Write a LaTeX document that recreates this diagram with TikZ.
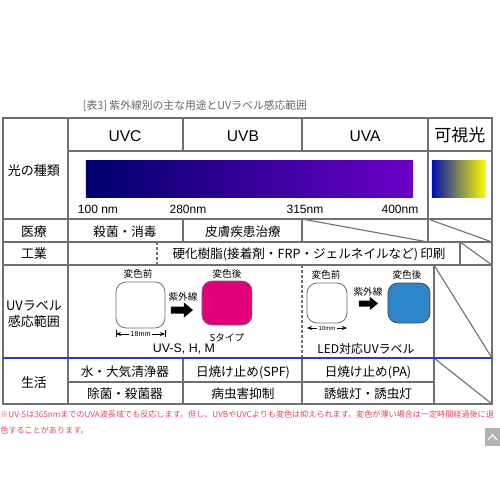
\documentclass[tikz,border=0pt]{standalone}
\usepackage{fontspec}
\setmainfont{Noto Sans CJK JP}
\newfontfamily\latinfont{Liberation Sans}
\usetikzlibrary{arrows.meta}
\definecolor{tline}{HTML}{707070}
\definecolor{uvblue}{HTML}{2838E0}
\definecolor{navyL}{HTML}{00006C}
\definecolor{purpR}{HTML}{6A00C8}
\definecolor{visblue}{HTML}{0010B0}
\definecolor{visgreen}{HTML}{30A040}
\definecolor{magentaS}{HTML}{E0007A}
\definecolor{ledblue}{HTML}{2E86C8}
\definecolor{notered}{HTML}{E8455A}
\definecolor{titlegray}{HTML}{666666}
\begin{document}
\begin{tikzpicture}[x=0.5pt,y=-0.5pt,
  grid/.style={draw=tline,line width=0.55pt},
  hdr/.style={font=\latinfont\fontsize{7.8}{8}\selectfont},
  rowlbl/.style={font=\fontsize{6.5}{8}\selectfont,align=center},
  cell/.style={font=\fontsize{6.3}{7}\selectfont},
  nmlbl/.style={font=\latinfont\fontsize{6}{7}\selectfont},
  small/.style={font=\fontsize{4.8}{5}\selectfont},
  tiny/.style={font=\latinfont\fontsize{3.6}{4}\selectfont,fill=white,inner sep=0.5pt},
  lbox/.style={draw=tline,line width=0.4pt,rounded corners=5pt},
  dimarrow/.style={-{Stealth[length=2.5pt,width=2pt]},line width=0.4pt,draw=black},
  blockarrow/.style={fill=black}
]
\useasboundingbox (0,0) rectangle (500,500);
\fill[white] (0,0) rectangle (500,500);

% title
\node[font=\fontsize{5.4}{6}\selectfont,text=titlegray] (title) at (195,106) {[表3] 紫外線別の主な用途とUVラベル感応範囲};

% gradients
\shade[left color=navyL,right color=purpR] (86,160) rectangle (413,197);
\shade[left color=visblue,middle color=visgreen,right color=yellow] (432,160) rectangle (486,197);

% grid lines
\draw[grid] (3,118) rectangle (492,404);
\draw[grid] (68,118) -- (68,404);
\draw[grid] (68,151) -- (492,151);
\draw[grid] (3,219) -- (492,219);
\draw[grid] (3,242) -- (492,242);
\draw[grid] (3,265) -- (492,265);
\draw[grid] (68,382) -- (435,382);
% verticals
\draw[grid] (183,118) -- (183,151);
\draw[grid] (302,118) -- (302,151);
\draw[grid] (428,118) -- (428,242);
\draw[grid] (183,219) -- (183,242);
\draw[grid] (302,219) -- (302,242);
\draw[grid] (460,242) -- (460,265);
\draw[grid] (434,265) -- (434,404);
\draw[grid] (183,358) -- (183,404);
\draw[grid] (302,358) -- (302,404);
\draw[grid,dashed,dash pattern=on 1.5pt off 1pt] (157,242) -- (157,265);
\draw[grid,dashed,dash pattern=on 1.5pt off 1pt] (302,265) -- (302,358);
% diagonals
\draw[grid] (302,219) -- (428,242);
\draw[grid] (428,219) -- (492,242);
\draw[grid] (460,242) -- (492,265);
\draw[grid] (434,265) -- (492,358);
\draw[grid] (434,358) -- (492,404);
% blue line
\draw[uvblue,line width=1pt] (3,358) -- (492,358);

% header
\node[hdr] (uvc) at (125,136) {UVC};
\node[hdr] (uvb) at (243,136) {UVB};
\node[hdr] (uva) at (365,136) {UVA};
\node[font=\fontsize{8.5}{9}\selectfont] (vis) at (460,135) {可視光};
\node[nmlbl] (n100) at (98,209) {100 nm};
\node[nmlbl] (n280) at (188,209) {280nm};
\node[nmlbl] (n315) at (305,209) {315nm};
\node[nmlbl] (n400) at (400,209) {400nm};

% row labels
\node[rowlbl] (r1) at (34,171) {光の種類};
\node[rowlbl] (r2) at (34,232) {医療};
\node[rowlbl] (r3) at (34,254) {工業};
\node[rowlbl] (r4) at (34,314) {UVラベル\\感応範囲};
\node[rowlbl] (r5) at (34,383) {生活};

% cells
\node[cell] (m1) at (125,232) {殺菌・消毒};
\node[cell] (m2) at (243,232) {皮膚疾患治療};
\node[cell] (k1) at (309,254) {硬化樹脂(接着剤・FRP・ジェルネイルなど)\,印刷};
\node[cell] (s1) at (125,372) {水・大気清浄器};
\node[cell] (s2) at (243,372) {日焼け止め(SPF)};
\node[cell] (s3) at (368,372) {日焼け止め(PA)};
\node[cell] (s4) at (125,394) {除菌・殺菌器};
\node[cell] (s5) at (243,394) {病虫害抑制};
\node[cell] (s6) at (368,394) {誘蛾灯・誘虫灯};

% UV label row, left
\node[small] (bef1) at (138,274) {変色前};
\draw[lbox,fill=white] (116,282) rectangle (165,328);
\node[small] (uv1) at (183,297) {紫外線};
\fill[blockarrow] (171,306.5) -- (184,306.5) -- (184,302.5) -- (193,310) -- (184,317.5) -- (184,313.5) -- (171,313.5) -- cycle;
\node[small] (aft1) at (227,274) {変色後};
\draw[lbox,fill=magentaS] (202,281) rectangle (252,325);
\node[small] (stype) at (227,338) {Sタイプ};
\coordinate (d1l) at (116,334);
\coordinate (d1r) at (165,334);
\node[tiny] (d1) at (140.5,334) {18mm};
\draw[dimarrow] (d1) -- (d1l);
\draw[dimarrow] (d1) -- (d1r);
\draw[line width=0.3pt] (116,330) -- (116,337);
\draw[line width=0.3pt] (165,330) -- (165,337);
\node[font=\latinfont\fontsize{6.2}{7}\selectfont] (uvs) at (184,349) {UV-S, H, M};

% UV label row, right
\node[small] (bef2) at (326,275) {変色前};
\draw[lbox,fill=white] (307,283) rectangle (347,323);
\node[small] (uv2) at (368,292) {紫外線};
\fill[blockarrow] (359,300.5) -- (370,300.5) -- (370,297) -- (378,303.5) -- (370,310) -- (370,306.5) -- (359,306.5) -- cycle;
\node[small] (aft2) at (407,275) {変色後};
\draw[lbox,fill=ledblue,draw=black!70] (388,283) rectangle (430,323);
\coordinate (d2l) at (307,328);
\coordinate (d2r) at (347,328);
\node[tiny,font=\latinfont\fontsize{3}{3}\selectfont] (d2) at (327,328) {10mm};
\draw[dimarrow] (d2) -- (d2l);
\draw[dimarrow] (d2) -- (d2r);
\node[font=\fontsize{6}{7}\selectfont] (led) at (366,349) {LED対応UVラベル};

% footnote
\node[anchor=west,inner sep=0,text=notered,font=\fontsize{4.05}{5}\selectfont] (fn1) at (0,414) {※UV-Sは365nmまでのUVA波長域でも反応します。但し、UVBやUVCよりも変色は抑えられます。変色が薄い場合は一定時間経過後に退};
\node[anchor=west,inner sep=0,text=notered,font=\fontsize{4.05}{5}\selectfont] (fn2) at (0,430) {色することがあります。};

% back-to-top button
\fill[gray!60] (485,428) rectangle (500,446);
\draw[white,line width=0.6pt] (488,440) -- (492.5,435) -- (497,440);
\end{tikzpicture}
\end{document}
